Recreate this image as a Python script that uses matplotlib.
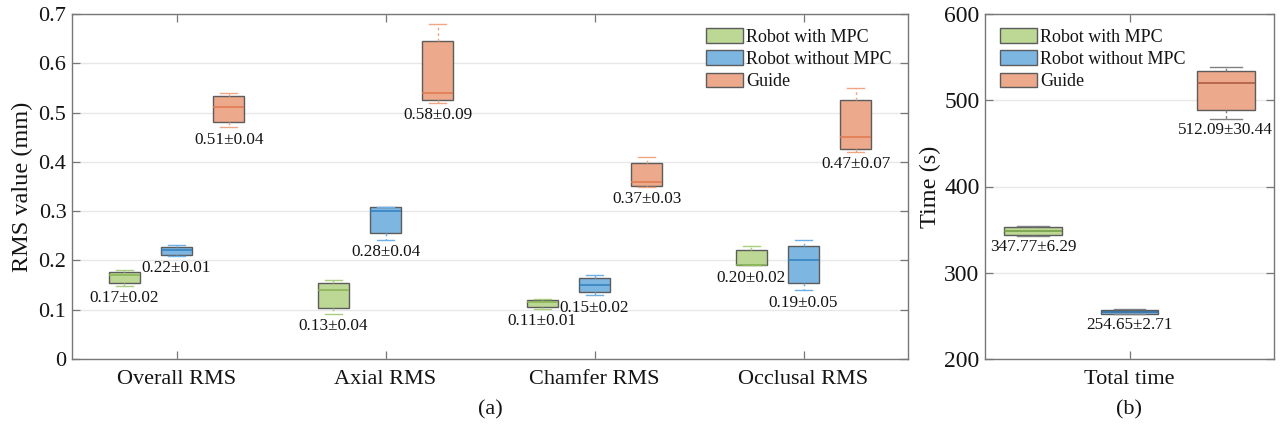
import matplotlib
matplotlib.use("Agg")
import matplotlib.pyplot as plt
from matplotlib.patches import Patch

plt.rcParams['font.family'] = ['Liberation Serif', 'DejaVu Serif']

# ---- data ----
categories = ['Overall RMS', 'Axial RMS', 'Chamfer RMS', 'Occlusal RMS']
groups = ['Robot with MPC', 'Robot without MPC', 'Guide']

# box statistics per category: (whisker low, Q1, median, Q3, whisker high)
rms_mpc = [(0.149, 0.155, 0.170, 0.177, 0.180),
           (0.091, 0.103, 0.140, 0.155, 0.160),
           (0.101, 0.105, 0.116, 0.120, 0.121),
           (0.190, 0.190, 0.191, 0.221, 0.230)]
rms_nompc = [(0.210, 0.212, 0.222, 0.227, 0.231),
             (0.241, 0.255, 0.301, 0.308, 0.309),
             (0.129, 0.135, 0.150, 0.165, 0.170),
             (0.139, 0.155, 0.201, 0.230, 0.241)]
rms_guide = [(0.470, 0.480, 0.511, 0.533, 0.540),
             (0.520, 0.525, 0.540, 0.645, 0.680),
             (0.350, 0.352, 0.360, 0.397, 0.410),
             (0.420, 0.427, 0.450, 0.525, 0.549)]

rms_mean_mpc = [0.17, 0.13, 0.11, 0.20]
rms_std_mpc = [0.02, 0.04, 0.01, 0.02]
rms_mean_nompc = [0.22, 0.28, 0.15, 0.19]
rms_std_nompc = [0.01, 0.04, 0.02, 0.05]
rms_mean_guide = [0.51, 0.58, 0.37, 0.47]
rms_std_guide = [0.04, 0.09, 0.03, 0.07]

time_stats = [(342.6, 343.4, 348.0, 352.7, 354.6),
              (252.2, 252.2, 254.5, 256.8, 257.6),
              (478.6, 488.7, 519.6, 533.5, 538.1)]
time_mean = [347.77, 254.65, 512.09]
time_std = [6.29, 2.71, 30.44]

# ---- styling ----
fills = ['#BDD795', '#7DB6E0', '#ECA98B']
med_left = ['#86B356', '#2F7FC1', '#E0784E']
whisk_left = ['#A9CF7E', '#6BB0E6', '#F0A585']
med_right = ['#6F9A45', '#2B68A0', '#A9593A']
edge = '#5c5c5c'
spine_c = '#777777'
grid_c = '#e8e8e8'
text_c = '#141414'


def to_stats(s):
    lo, q1, med, q3, hi = s
    return dict(whislo=lo, q1=q1, med=med, q3=q3, whishi=hi, fliers=[])


def style_axes(ax, labelsize):
    for sp in ax.spines.values():
        sp.set_color(spine_c)
        sp.set_linewidth(1.0)
    ax.tick_params(direction='in', length=6, width=0.9, color=spine_c,
                   top=True, right=True, labelsize=labelsize, pad=4,
                   labelcolor=text_c)
    ax.yaxis.grid(True, color=grid_c, linewidth=1.0)
    ax.set_axisbelow(True)


def draw_box(ax, pos, stat, width, fill, medc, whc):
    ax.bxp([to_stats(stat)], positions=[pos], widths=width,
           patch_artist=True, showfliers=False,
           boxprops=dict(facecolor=fill, edgecolor=edge, linewidth=1.0),
           medianprops=dict(color=medc, linewidth=1.1),
           whiskerprops=dict(color=whc, linewidth=1.0, linestyle=(0, (2, 2))),
           capprops=dict(color=whc, linewidth=1.0),
           capwidths=width * 0.55, manage_ticks=False)


def add_legend(ax, anchor_x, anchor_y, handles):
    ax.legend(handles=handles, loc='upper left',
              bbox_to_anchor=(anchor_x, anchor_y),
              frameon=False, fontsize=13, handlelength=2.05, handleheight=0.88,
              handletextpad=0.18, labelspacing=0.26, borderpad=0,
              borderaxespad=0, labelcolor=text_c)


fig = plt.figure(figsize=(12.83, 4.28), dpi=100)
W, H = 1283, 428
ax1 = fig.add_axes([72 / W, 69 / H, 836 / W, 345 / H])
ax2 = fig.add_axes([985 / W, 69 / H, 289 / W, 345 / H])

# ---- panel (a): RMS errors ----
style_axes(ax1, 16)
x = [1, 2, 3, 4]
offsets = [-0.25, 0.0, 0.25]
series = [rms_mpc, rms_nompc, rms_guide]
means = [rms_mean_mpc, rms_mean_nompc, rms_mean_guide]
stds = [rms_std_mpc, rms_std_nompc, rms_std_guide]
for g in range(3):
    for i in range(4):
        pos = x[i] + offsets[g]
        st = series[g][i]
        draw_box(ax1, pos, st, 0.15, fills[g], med_left[g], whisk_left[g])
        ax1.annotate(f'{means[g][i]:.2f}±{stds[g][i]:.2f}', xy=(pos, st[0]),
                     xytext=(0, -3.0), textcoords='offset points',
                     ha='center', va='top', fontsize=12.4, color=text_c)

ax1.set_xlim(0.5, 4.5)
ax1.set_ylim(0, 0.7)
ax1.set_xticks(x)
ax1.set_xticklabels(categories, fontsize=16)
ax1.set_yticks([0, 0.1, 0.2, 0.3, 0.4, 0.5, 0.6, 0.7])
ax1.set_yticklabels(['0', '0.1', '0.2', '0.3', '0.4', '0.5', '0.6', '0.7'])
ax1.tick_params(axis='x', pad=8)
ax1.set_ylabel('RMS value (mm)', fontsize=17.5, labelpad=4, color=text_c)

handles = [Patch(facecolor=fills[g], edgecolor=edge, linewidth=1.0, label=groups[g])
           for g in range(3)]
add_legend(ax1, (706 - 72) / 836, (359 - 28) / 345, handles)

# ---- panel (b): total time ----
style_axes(ax2, 17)
for g in range(3):
    st = time_stats[g]
    draw_box(ax2, g + 1, st, 0.6, fills[g], med_right[g], '#808080')
    ax2.annotate(f'{time_mean[g]:.2f}±{time_std[g]:.2f}', xy=(g + 1, st[0]),
                 xytext=(0, -2.5), textcoords='offset points',
                 ha='center', va='top', fontsize=12.3, color=text_c)

ax2.set_xlim(0.5, 3.5)
ax2.set_ylim(200, 600)
ax2.set_xticks([2])
ax2.set_xticklabels(['Total time'], fontsize=16)
ax2.set_yticks([200, 300, 400, 500, 600])
ax2.tick_params(axis='x', pad=8)
ax2.set_ylabel('Time (s)', fontsize=17.5, labelpad=2, color=text_c)
add_legend(ax2, (1000 - 985) / 289, (359 - 28) / 345, handles)

# panel captions
fig.text(490 / W, 1 - 410 / H, '(a)', ha='center', va='center', fontsize=16,
         color=text_c)
fig.text(1129 / W, 1 - 410 / H, '(b)', ha='center', va='center', fontsize=16,
         color=text_c)

fig.savefig('out.png', dpi=100)
